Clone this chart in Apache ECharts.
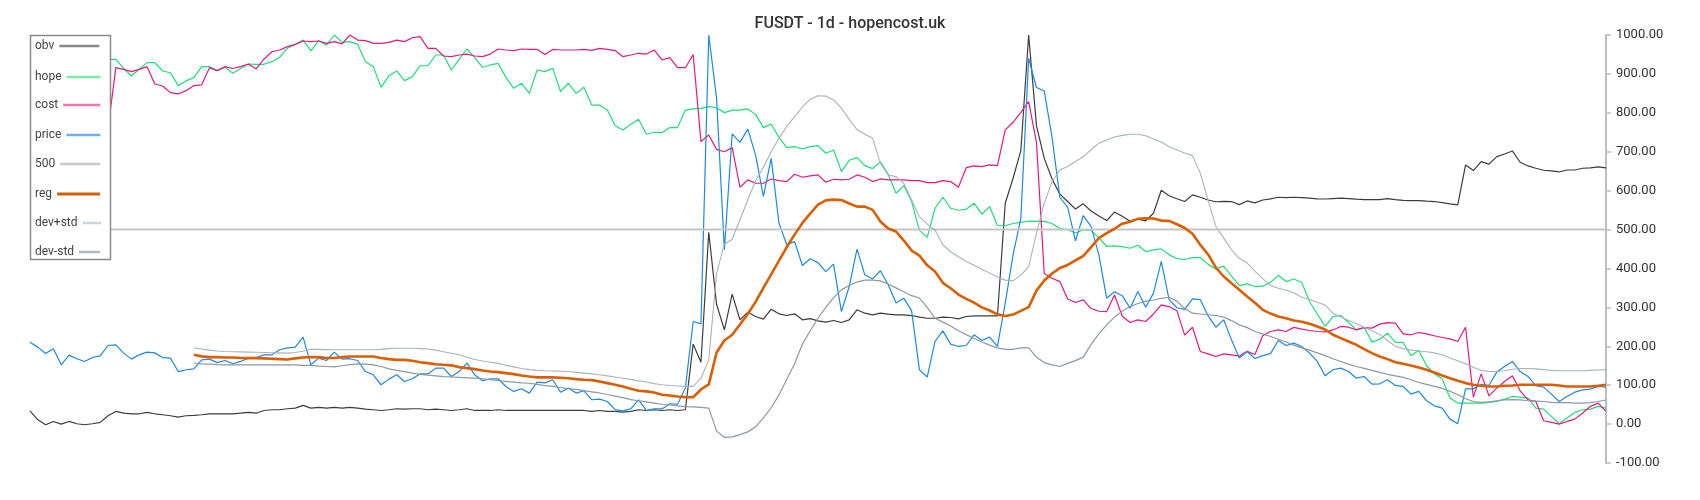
<!DOCTYPE html>
<html>
<head>
<meta charset="utf-8">
<script src="https://cdn.jsdelivr.net/npm/echarts@6/dist/echarts.min.js"></script>
<style>html,body{margin:0;padding:0;background:#fff;}#c{width:1700px;height:500px;}</style>
</head>
<body>
<div id="c"></div>
<script>
// ---- data ----
const titleText = 'FUSDT - 1d - hopencost.uk';
const seriesNames = ['obv', 'hope', 'cost', 'price', '500', 'reg', 'dev+std', 'dev-std'];
const yTicks = { min: -100, max: 1000, step: 100 };
const N = 203;
const categories = Array.from({ length: N }, (_, i) => i);
const level500 = 500;

const price = [
  210.6,197.8,181.5,193.5,152.4,177.2,167.8,161,171.2,175.5,
  202,203.8,182.4,167,178,185,183,171,169.5,135,
  139.6,142,165,167,158,163.5,155,161,169.5,171,
  178,178,191,196,198,223.5,152.4,169.5,163.5,185,
  167,168,163.5,135,126.7,101,115.6,126.7,109.6,116.4,
  129,129,143.8,143.8,122.4,135,156.7,126.7,111.3,116.4,
  116.4,96.7,84,90.7,79.6,108,106,114,82,92.5,
  79.6,85.6,62.5,64,58,37,34,39,62.5,35,
  39,39,52,51,92.5,263.7,257.7,1000,837,448,
  746,724,758,692,585,683,516,461,469,407.5,
  425,415,392,411,289,353.6,449.5,383.6,373,394,
  358,311,323.6,291,139.6,120.7,212.3,239.7,205.5,199.5,
  202,229.5,215,223.5,199.5,311,435,529,940,865,
  856,737,583,557,471,536,508,435,323.6,340,
  330,298,341,300.5,336.5,418,320,299,295,322,
  320,278,249,268,216.5,170,186.5,168.5,176,181,
  215,202,208,199.5,182.4,161,124,139.6,143.8,135,
  118,122.4,102.7,103.6,114,99.3,96.7,77,84,60,
  47,41,12.8,0.9,90.7,90.7,102,99.3,133.6,148,
  161,135,122.4,98.5,95,77,58,71,82,88,
  90,96.7,95
];

const obv = [
  34,11,-1.7,6.8,0,6.8,0.9,-1.7,0.9,4.3,
  21.4,32.5,28,26.5,26.5,30,26.5,24,21.4,18,
  21.4,22.3,24,26.5,26.5,26.5,26.5,28,30,28,
  35,36.8,36.8,39.4,41,48,41,43,41,43,
  41,43,41,38.5,36.8,35,36.8,39.4,38.5,39.4,
  39.4,36.8,38.5,36.8,35,36.8,39.4,35,35,35,
  36.8,35,35,35,35,35,35,35,35,35,
  35,35,32.5,35,32.5,32.5,30.8,32.5,36.8,35,
  36.8,35,36.8,35,36.8,205.5,159,493,308,242,
  334,268,287.7,276.5,269.7,295.4,283.4,279,283.4,268,
  271,265.4,262,266.3,261,268,293.7,285,280.8,285,
  282.5,280.8,280.8,279,274.8,272,272,274.8,274,270.5,
  276.5,278,278,278,278,567.6,631.8,703,1000,767,
  683,630,591,572,552.5,566,547.5,535,523,545,
  534,521.5,527,522.5,542,601,587,579,572,589,
  583,576,571.5,572.5,572,564,573.5,568.5,576,578.7,
  583,582,583,582,580.6,578.7,578.5,579.6,580.5,579.6,
  578,577,577,577,579.6,577,575,574.5,574.5,572.8,
  572,569,566,563.4,666,651.5,674.7,668,687.5,694.3,
  702,673,663.5,657.5,652.4,650.7,648,653,653,657.5,
  658.4,661,658.4
];

const hope = [
  null,null,null,null,null,null,null,null,null,null,
  937,937.5,914,894.7,912,929,929,907.5,903,870,
  882,890.4,918.7,918.7,908.4,917,901.5,914,925.5,924.7,
  924.7,931.5,942.6,966,976,987,959,985.4,974,1000,
  981,983,976,931.5,918.7,865.6,895.5,907.5,882.7,893,
  921,921,948.6,948.6,910,937.5,964,941.8,917,923,
  927,891,863,875.9,850,910,905.8,914.4,854.5,876,
  850,865.6,820,820,807,767,756,770.5,783.4,745,
  750,749,762,762,807,810,811.6,816,813,800.5,
  807,807,810,796,762,771.4,737,710.6,713,707,
  713,715.8,696,704.6,649,678,685,664.4,656.7,674,
  641.7,593.4,613,571.8,498,480,554.8,583,554.8,549.6,
  552,567.7,539.4,559,509.8,509.8,515.5,518.5,521.4,521,
  521,515.5,502.5,500,491,499,498,478.5,457,458,
  456.2,452,459.7,443.4,447.7,450.3,435,425.5,423,428,
  428,410.5,398.5,406,380.4,356,360.4,353.5,354.4,364.2,
  382.3,366.3,373,364,315,283,251,276.5,279,261,
  242,249,210.6,218.3,233.7,209.8,209.8,175.5,189.2,150,
  129.3,116.4,66.8,54,54,54,54,55.7,58.2,64.2,
  71,69.3,66.8,41,38.5,19.7,0.9,15.4,30,36.8,
  38.5,45.4,41
];

const cost = [
  null,null,null,null,null,null,null,null,null,null,
  760,916,911.8,905.8,911.8,918.7,874,869,852,848.5,
  857,870,871.6,916,908.4,918.7,914,918.7,925.5,912.7,
  938.4,957,961.5,970,976,984.6,983,984.6,978.6,983,
  977,1000,987,985.4,978.6,978.6,981,987,983,993,
  995.7,965.8,965.8,946,944.3,948.6,951,946,944.3,951,
  964,961.5,959.8,964,963.2,963.2,950,963,961.5,961.5,
  961.5,963,960.6,965.8,963,960,944.3,948.6,953,951,
  961.5,935.8,941.8,916,916,950,726,743,706,700,
  710.6,608.7,627.6,619,619,630,625.9,623.3,642,634.4,
  638,640.4,621.6,629.3,627.6,629.3,640.4,634.4,623.3,630,
  627.6,627.6,627.6,625.9,625.9,620.7,620.7,625.9,623.3,608.7,
  659,663.5,661.8,666,664.4,756,775.7,801.4,828.8,724,
  387,375,366.2,321.5,312.4,319.2,297,290,289.2,332,
  277,261,268,263.6,283,306.4,302,291.5,228.5,249,
  186.5,180.3,173.8,180.6,178,174.5,187,179,227,238,
  242,238,248.5,244,240.6,238,237,242,251,249,
  242,248,246.6,257,261,259.4,232,229.5,235.4,232,
  227,222.6,219,212.3,249,69.3,129,72.7,92.5,109.6,
  124,85.6,62.5,58.2,8.6,4.3,0,6.8,12.8,28.3,
  45.4,54,32.5
];

const reg = [
  null,null,null,null,null,null,null,null,null,null,
  null,null,null,null,null,null,null,null,null,null,
  null,178,174,172,172,171,171,170,169.5,169.5,
  169,168,167,166,169,171,172,172,170,170,
  172,173.8,173.8,173.8,173.8,170,167,165,165,162.7,
  159,156.7,154,152.4,151,146.4,143.8,141.3,137.8,135,
  133.6,131,128.4,125,122.4,120,120,120,119,118,
  115.6,114,113,109.6,105.3,101,96.7,90.7,85.6,84,
  81.3,75.3,73.6,71,69.3,69,89,102,184,215,
  229.5,256,283,314,350,385,420,455,487,517,
  541,564,575,577,576,567,559,559,550.5,520.5,
  502.5,495,471.7,446,433,408,392,363,349,333,
  322,312,300,292,282,278,281.5,291,300.5,343,
  369,387,401,409,421,432,455,478,490.6,502,
  515,520,527.4,529,528.4,523,522.3,513.7,504,489,
  460.6,436,402,379.3,362,345,328,312,293.7,284,
  276.5,272,266.3,263,257.7,250.9,243,229.5,221,212.3,
  203.8,192.6,182.4,173.8,167,159,155,150.7,145.5,139.6,
  132.7,125,118,111.3,105.3,101,98.5,96.7,96.7,98.5,
  99.3,101,101,101,101,101,99.3,96.7,96.7,96.7,
  96.7,98.5,101
];

const devPlus = [
  null,null,null,null,null,null,null,null,null,null,
  null,null,null,null,null,null,null,null,null,null,
  null,196,193,190,188,186.5,186,185.5,185,184.5,
  184,183.5,183,182.4,184,187,192,192,191.5,191,
  191,191,191,191,191,192,194,195,195,195,
  194,193,190,186,182,178,172,166,162,159,
  156,151,147,143,140,138,137,136.5,136,135,
  133,131,129,127,124,121,118,115,111,108,
  104,101,99,98,97,97,118,165,388,462,
  475,525,576,625,660,700,735,765,790,815,
  835,844,843,833,812,783,757,745,735,670,
  640,636,619,576,533,514,499,461,443,430,
  418,408,398,388,378,370,368,383,405,490,
  568,623,653,662,675,687,705,722,730,738,
  742,745,745,741,733,725,713,705,697,690,
  645,575,508,478,448,426,414,393,374,356,
  349,344,337,326,320,313,306,285,276,266,
  258,249,240,230,215,200,194,190,188,186,
  183,178,170,163,155,146,138,135,135,137,
  141,143,143,142,140,138,137,137,137,137,
  138,139,140
];

const devMinus = [
  null,null,null,null,null,null,null,null,null,null,
  null,null,null,null,null,null,null,null,null,null,
  null,157,155,154,153,152.4,152,152,152,152,
  152,152,152,152,152,151,150.7,149,148,147,
  150,153,155,154,152,148,142,138,135,131,
  128,126,124,122,121,120,119,118,116,114,
  112,110,108,106,105,102,99,97,94,91,
  89,86,83,80,76,72,68,63,60,57,
  54,51,49,47,45,44,43,41,-18,-34,
  -33,-27,-20,-7,16,42,75,115,155,205,
  240,272,300,325,345,356,365,370,370,368,
  360,350,340,330,324,300,272,262,252,240,
  230,220,211,203,196,192,192,196,196,172,
  158,152,148,156,163,172,205,232,255,275,
  290,302,310,316,319,323,326,316,297,285,
  283,281,279,275,266,255,248,238,232,225,
  218,211,203,196,190,183,176,168,161,154,
  148,143,138,133,128,124,120,114,107,102,
  97,92,84,76,65,58,56,57,60,62,
  63,62,60,59,58,56,55,55,54,54,
  55,58,62
];

const line500 = categories.map(() => level500);

// ---- styles ----
const lineColors = {
  'obv': '#3c3c3c', 'hope': '#1fdd78', 'cost': '#e6197e', 'price': '#1e88e5',
  '500': '#c6c6c6', 'reg': '#d95f02', 'dev+std': '#aab3bb', 'dev-std': '#8c98a4'
};
const lineWidths = {
  'obv': 1.2, 'hope': 1.2, 'cost': 1.2, 'price': 1.2,
  '500': 2, 'reg': 2.6, 'dev+std': 1.1, 'dev-std': 1.2
};
const legendColors = {
  'obv': '#8a8a8a', 'hope': '#7de9aa', 'cost': '#ee77b3', 'price': '#72b2ec',
  '500': '#c8c8c8', 'reg': '#d45f0a', 'dev+std': '#d0d5d9', 'dev-std': '#b0b8bf'
};
const seriesData = {
  'obv': obv, 'hope': hope, 'cost': cost, 'price': price,
  '500': line500, 'reg': reg, 'dev+std': devPlus, 'dev-std': devMinus
};
const legendCenters = [45, 76, 104, 134, 163, 193, 222, 251];
const legendIconW = [40, 34, 37, 34, 40, 43, 19, 21];

const FONT = 'Roboto, "Noto Sans", sans-serif';

const chart = echarts.init(document.getElementById('c'), null, { renderer: 'canvas' });

const legends = seriesNames.map((name, k) => {
  const w = legendIconW[k];
  const h = name === 'reg' ? 3 : 2.5;
  return {
    show: true,
    left: 35,
    top: legendCenters[k] - 5,
    padding: 0,
    orient: 'horizontal',
    align: 'right',
    itemWidth: w,
    itemHeight: 14,
    selectedMode: false,
    textStyle: { fontSize: 12, color: '#444', fontFamily: FONT },
    data: [{
      name: name,
      icon: 'path://M0,0 L' + w + ',0 L' + w + ',' + h + ' L0,' + h + ' Z',
      itemStyle: { color: legendColors[name] },
      lineStyle: { color: legendColors[name], width: 0 }
    }]
  };
});

const series = seriesNames.map(name => ({
  name: name,
  type: 'line',
  data: seriesData[name],
  symbol: 'none',
  showSymbol: false,
  smooth: false,
  connectNulls: false,
  lineStyle: { color: lineColors[name], width: lineWidths[name] },
  itemStyle: { color: lineColors[name] },
  emphasis: { disabled: true },
  z: name === 'reg' ? 3 : 2
}));

chart.setOption({
  animation: false,
  backgroundColor: '#fff',
  title: {
    text: titleText,
    left: 'center',
    top: 11,
    textStyle: { fontSize: 16, fontWeight: 500, color: '#333', fontFamily: FONT }
  },
  grid: { left: 30, right: 94, top: 35, bottom: 37, containLabel: false },
  legend: legends,
  graphic: [{
    type: 'rect',
    z: 3,
    shape: { x: 30.5, y: 35.5, width: 80, height: 224 },
    style: { fill: '#fff', stroke: '#8a8a8a', lineWidth: 1.5 }
  }],
  xAxis: {
    type: 'category',
    data: categories,
    boundaryGap: false,
    show: false
  },
  yAxis: {
    type: 'value',
    position: 'right',
    min: yTicks.min,
    max: yTicks.max,
    interval: yTicks.step,
    axisLine: { show: true, lineStyle: { color: '#b8c0c6', width: 2 } },
    axisTick: { show: true, length: 5, lineStyle: { color: '#b8c0c6', width: 1.5 } },
    splitLine: { show: false },
    axisLabel: {
      formatter: v => v.toFixed(2),
      color: '#333',
      fontSize: 13,
      margin: 10,
      fontFamily: FONT
    }
  },
  series: series
});
</script>
</body>
</html>
